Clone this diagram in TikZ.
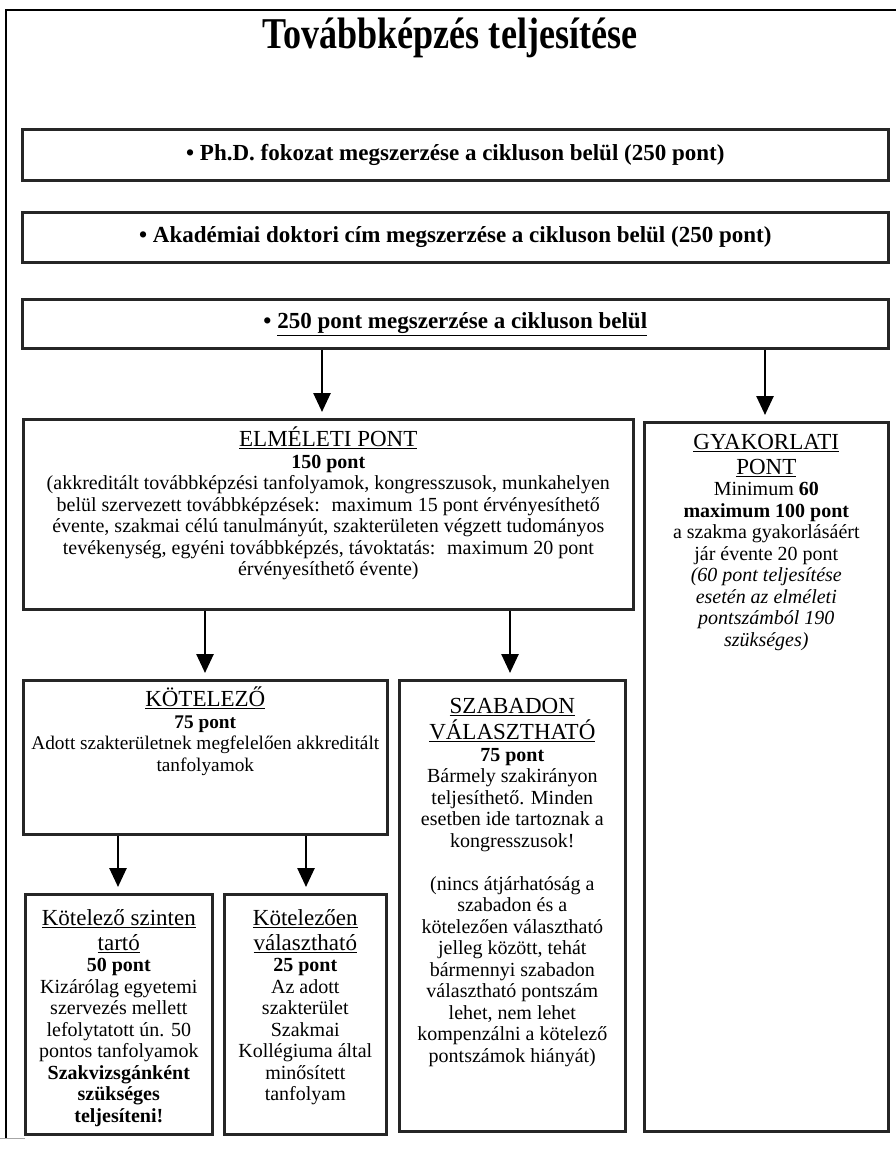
\documentclass[tikz,border=0pt]{standalone}
\usepackage{fontspec}
\setmainfont{Liberation Serif}
\usetikzlibrary{arrows.meta,positioning}

\newcommand{\fejsor}[1]{{\fontsize{23}{25}\selectfont\underline{#1}}}

\begin{document}
\begin{tikzpicture}[x=1pt,y=-1pt,
	doboz/.style={draw=black!85,line width=2.6pt,inner sep=0pt,anchor=north west},
	felso/.style={inner sep=0pt,font=\fontsize{23}{26}\selectfont\bfseries},
	szoveg/.style={anchor=north,align=center,inner sep=0pt,font=\fontsize{20}{21.5}\selectfont},
	nyil/.style={line width=2.6pt,shorten >=6pt,-{Triangle[width=17pt,length=19pt]}}]
	\useasboundingbox (0,0) rectangle (896,1149);
	% keret es cim
	\draw[line width=1.6pt] (6,1138) -- (6,10) -- (896,10);
	\draw[black!35,line width=0.8pt] (0,1138) -- (25,1138);
	\node (cim) at (450,38) {\scalebox{0.82}[1]{\fontsize{44}{48}\selectfont\bfseries Továbbképzés teljesítése}};
	% harom felso doboz
	\node[doboz,minimum width=866pt,minimum height=51pt] (phd) at (21,128) {};
	\node[felso] (phdtxt) at (phd.center) {\textbullet\ Ph.D. fokozat megszerzése a cikluson belül (250 pont)};
	\node[doboz,minimum width=866pt,minimum height=50pt] (akad) at (21,211) {};
	\node[felso] (akadtxt) at (akad.center) {\textbullet\ Akadémiai doktori cím megszerzése a cikluson belül (250 pont)};
	\node[doboz,minimum width=866pt,minimum height=49pt] (ossz) at (21,298) {};
	\node[felso] (osszttxt) at (ossz.center) {\textbullet\ \underline{250 pont megszerzése a cikluson belül}};
	% elmeleti es gyakorlati pont
	\node[doboz,minimum width=610pt,minimum height=190pt] (elm) at (22,418) {};
	\node[szoveg,below=9pt of elm.north] (elmtxt) {\fejsor{ELMÉLETI PONT}\\
		\textbf{150 pont}\\
		(akkreditált továbbképzési tanfolyamok, kongresszusok, munkahelyen\\
		belül szervezett továbbképzések:~ maximum 15 pont érvényesíthető\\
		évente, szakmai célú tanulmányút, szakterületen végzett tudományos\\
		tevékenység, egyéni továbbképzés, távoktatás:~ maximum 20 pont\\
		érvényesíthető évente)};
	\node[doboz,minimum width=244pt,minimum height=709pt] (gyak) at (643,421) {};
	\node[szoveg,below=13pt of gyak.north] (gyaktxt) {\fejsor{GYAKORLATI}\\[3.5pt]
		\fejsor{PONT}\\
		Minimum \textbf{60}\\
		\textbf{maximum 100 pont}\\
		a szakma gyakorlásáért\\
		jár évente 20 pont\\
		{\itshape (60 pont teljesítése}\\
		{\itshape esetén az elméleti}\\
		{\itshape pontszámból 190}\\
		{\itshape szükséges)}};
	\draw[nyil] (ossz.south -| 322,0) -- (elm.north -| 322,0);
	\draw[nyil] (ossz.south -| 765,0) -- (gyak.north -| 765,0);
	% kotelezo es szabadon valaszthato
	\node[doboz,minimum width=364pt,minimum height=154pt] (kot) at (22,679) {};
	\node[szoveg,font=\fontsize{19.3}{21.5}\selectfont,below=8pt of kot.north] (kottxt) {\fejsor{KÖTELEZŐ}\\
		\textbf{75 pont}\\
		Adott szakterületnek megfelelően akkreditált\\
		tanfolyamok};
	\node[doboz,minimum width=226pt,minimum height=451pt] (szab) at (398,679) {};
	\node[szoveg,below=19pt of szab.north] (szabtxt) {\fejsor{SZABADON}\\[3.5pt]
		\fejsor{VÁLASZTHATÓ}\\
		\textbf{75 pont}\\
		Bármely szakirányon\\
		teljesíthető. Minden\\
		esetben ide tartoznak a\\
		kongresszusok!\\[21.5pt]
		(nincs átjárhatóság a\\
		szabadon és a\\
		kötelezően választható\\
		jelleg között, tehát\\
		bármennyi szabadon\\
		választható pontszám\\
		lehet, nem lehet\\
		kompenzálni a kötelező\\
		pontszámok hiányát)};
	\draw[nyil] (elm.south -| 205,0) -- (kot.north -| 205,0);
	\draw[nyil] (elm.south -| 510,0) -- (szab.north -| 510,0);
	% also ket doboz
	\node[doboz,minimum width=187pt,minimum height=240pt] (szint) at (24,893) {};
	\node[szoveg,below=16pt of szint.north] (szinttxt) {\fejsor{Kötelező szinten}\\[3.5pt]
		\fejsor{tartó}\\
		\textbf{50 pont}\\
		Kizárólag egyetemi\\
		szervezés mellett\\
		lefolytatott ún. 50\\
		pontos tanfolyamok\\
		\textbf{Szakvizsgánként}\\
		\textbf{szükséges}\\
		\textbf{teljesíteni!}};
	\node[doboz,minimum width=162pt,minimum height=240pt] (valaszt) at (223,893) {};
	\node[szoveg,below=16pt of valaszt.north] (valaszttxt) {\fejsor{Kötelezően}\\[3.5pt]
		\fejsor{választható}\\
		\textbf{25 pont}\\
		Az adott\\
		szakterület\\
		Szakmai\\
		Kollégiuma által\\
		minősített\\
		tanfolyam};
	\draw[nyil] (kot.south -| 118,0) -- (szint.north -| 118,0);
	\draw[nyil] (kot.south -| 306,0) -- (valaszt.north -| 306,0);
\end{tikzpicture}
\end{document}
